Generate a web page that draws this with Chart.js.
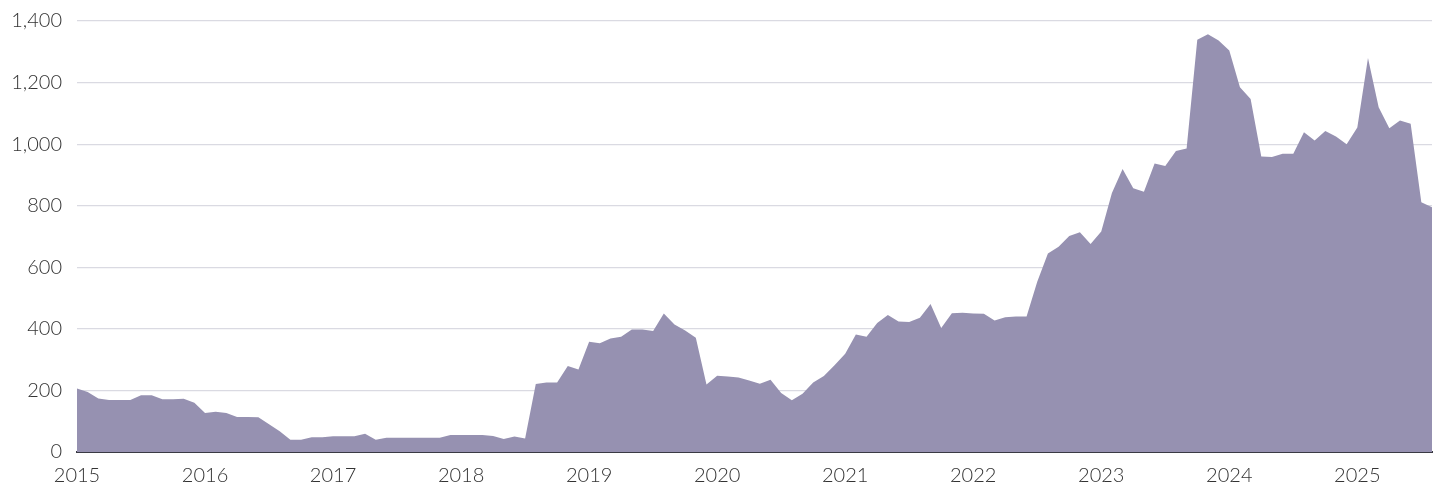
<!DOCTYPE html>
<html>
<head>
<meta charset="utf-8">
<script src="https://cdn.jsdelivr.net/npm/chart.js@4.4.1/dist/chart.umd.min.js"></script>
<style>
  html, body { margin: 0; padding: 0; background: #fff; }
  #wrap { width: 1445px; height: 486px; }
</style>
</head>
<body>
<div id="wrap"><canvas id="chart" width="1445" height="486"></canvas></div>
<script>
// years shown on the x axis (one label per January)
const years = ['2015', '2016', '2017', '2018', '2019', '2020', '2021', '2022', '2023', '2024', '2025'];
const monthsInLastYear = 8; // data runs Jan 2015 - Aug 2025

// monthly values
const values2015_2016 = [206, 195, 174, 169, 169, 169, 184, 184, 171, 171, 173, 160,
                         127, 131, 127, 114, 114, 113, 90, 67, 40, 40, 48, 48];
const values2017_2018 = [51, 51, 51, 59, 40, 46, 46, 46, 46, 46, 46, 55,
                         55, 55, 55, 52, 42, 50, 44, 221, 226, 226, 279, 268];
const values2019_2020 = [358, 353, 369, 374, 398, 398, 393, 450, 414, 395, 371, 219,
                         248, 245, 242, 232, 222, 235, 192, 168, 189, 226, 247, 282];
const values2021_2022 = [319, 382, 374, 419, 445, 424, 422, 436, 481, 403, 451, 452,
                         450, 449, 427, 438, 440, 440, 553, 645, 667, 702, 714, 676];
const values2023_2024 = [716, 841, 919, 857, 845, 937, 929, 978, 986, 1339, 1357, 1337,
                         1304, 1185, 1147, 960, 958, 969, 969, 1039, 1012, 1043, 1025, 1000];
const values2025 = [1054, 1280, 1120, 1052, 1077, 1066, 811, 795];

const yTicks = [0, 200, 400, 600, 800, 1000, 1200, 1400];

const values = [].concat(values2015_2016, values2017_2018, values2019_2020,
                         values2021_2022, values2023_2024, values2025);

// one category per month
let labels = [];
years.forEach(function(y, i) {
    let n = (i === years.length - 1) ? monthsInLastYear : 12;
    for (let m = 1; m <= n; m++) {
        labels.push(y + '-' + (m < 10 ? '0' + m : m));
    }
});

const tickFont = { family: 'Lato, "Open Sans", sans-serif', size: 20, weight: 300 };

new Chart(document.getElementById('chart'), {
    type: 'line',
    data: {
        labels: labels,
        datasets: [{
            data: values,
            fill: 'origin',
            backgroundColor: '#9691b1',
            borderWidth: 0,
            pointRadius: 0,
            tension: 0
        }]
    },
    options: {
        responsive: false,
        animation: false,
        layout: { autoPadding: false, padding: { top: 21, right: 13, left: 0, bottom: 0 } },
        plugins: { legend: { display: false }, tooltip: { enabled: false } },
        scales: {
            x: {
                type: 'category',
                offset: false,
                grid: { display: false, drawTicks: false },
                border: { display: true, color: '#3a3a44', width: 2 },
                ticks: {
                    autoSkip: false,
                    maxRotation: 0,
                    minRotation: 0,
                    padding: 12,
                    color: '#333',
                    font: tickFont,
                    callback: function(val, idx) {
                        return idx % 12 === 0 ? years[idx / 12] : '';
                    }
                },
                afterFit: function(scale) { scale.height = 34; }
            },
            y: {
                min: 0,
                max: 1400,
                afterBuildTicks: function(scale) {
                    scale.ticks = yTicks.map(v => ({ value: v }));
                },
                grid: {
                    color: function(ctx) { return ctx.tick.value === 0 ? 'rgba(0,0,0,0)' : '#dadae2'; },
                    lineWidth: 1.2,
                    drawTicks: false
                },
                border: { display: false },
                ticks: {
                    padding: 15,
                    color: '#333',
                    font: tickFont,
                    callback: function(v) { return v.toLocaleString('en-US'); }
                },
                afterFit: function(scale) {
                    scale.width = 77;
                    // tick padding would otherwise push the plot top down
                    scale.paddingTop = 0;
                    scale.paddingBottom = 0;
                }
            }
        }
    }
});
</script>
</body>
</html>
